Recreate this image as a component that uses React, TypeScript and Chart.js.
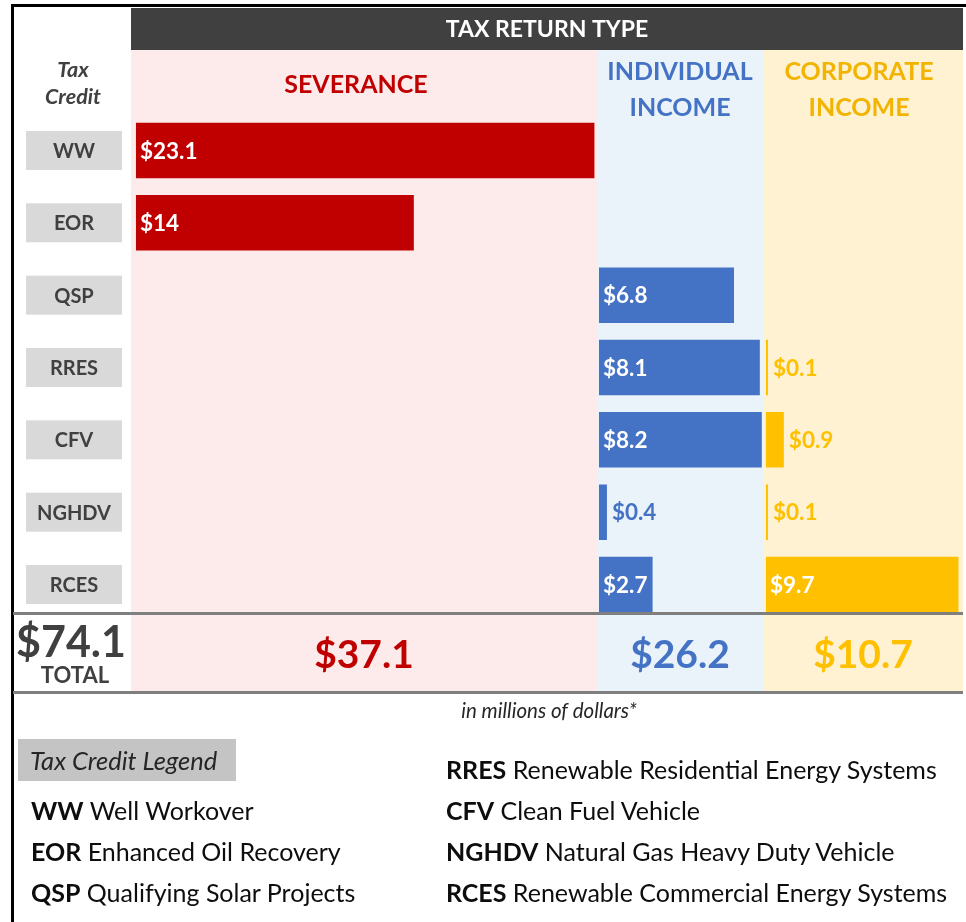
import React, { useEffect, useRef } from "react";
import { Chart, registerables } from "chart.js";

Chart.register(...registerables);

// ---------- data ----------
const creditCodes = ["WW", "EOR", "QSP", "RRES", "CFV", "NGHDV", "RCES"];
const severanceValues = [23.1, 14, null, null, null, null, null];
const individualValues = [null, null, 6.8, 8.1, 8.2, 0.4, 2.7];
const corporateValues = [null, null, null, 0.1, 0.9, 0.1, 9.7];
const panelTitles = [["SEVERANCE"], ["INDIVIDUAL", "INCOME"], ["CORPORATE", "INCOME"]];
const panelTotals = ["$37.1", "$26.2", "$10.7"];
const grandTotal = "$74.1";
const headerTitle = "TAX RETURN TYPE";
const legendLeft = [
  ["WW", "Well Workover"],
  ["EOR", "Enhanced Oil Recovery"],
  ["QSP", "Qualifying Solar Projects"],
];
const legendRight = [
  ["RRES", "Renewable Residential Energy Systems"],
  ["CFV", "Clean Fuel Vehicle"],
  ["NGHDV", "Natural Gas Heavy Duty Vehicle"],
  ["RCES", "Renewable Commercial Energy Systems"],
];

// ---------- styles ----------
const FF = "Lato, 'Open Sans', sans-serif";
const BAR_COLORS = ["#C00000", "#4472C4", "#FFC000"];
const TITLE_COLORS = ["#C00000", "#4472C4", "#F2B400"];
const PANEL_BG = ["#FDEBEB", "#EAF2FA", "#FEF2D3"];
const TITLE_DX = [-8, 0, -4];
const DARK = "#404040";

const decorPlugin = {
  id: "decor",
  beforeDatasetsDraw(chart: any) {
    const ctx = chart.ctx;
    const panels = [chart.scales.xSev, chart.scales.xInd, chart.scales.xCorp];
    const yScale = chart.scales.y;
    const left = panels[0].left;
    const right = panels[2].right;
    ctx.save();
    // frame
    ctx.fillStyle = "#000";
    ctx.fillRect(11, 4, 955, 3);
    ctx.fillRect(11, 4, 3, 918);
    // panel backgrounds
    panels.forEach((s: any, i: number) => {
      ctx.fillStyle = PANEL_BG[i];
      ctx.fillRect(s.left, 50, s.right - s.left, 642);
    });
    // header
    ctx.fillStyle = DARK;
    ctx.fillRect(left, 8, right - left, 42);
    ctx.fillStyle = "#fff";
    ctx.font = `bold 23px ${FF}`;
    ctx.textAlign = "center";
    ctx.textBaseline = "middle";
    ctx.fillText(headerTitle, (left + right) / 2, 30);
    // left header
    ctx.fillStyle = DARK;
    ctx.font = `italic bold 21.5px ${FF}`;
    ctx.fillText("Tax", 73, 70);
    ctx.fillText("Credit", 73, 97);
    // panel titles
    ctx.font = `bold 25px ${FF}`;
    panels.forEach((s: any, i: number) => {
      ctx.fillStyle = TITLE_COLORS[i];
      const cx = (s.left + s.right) / 2 + TITLE_DX[i];
      const lines = panelTitles[i];
      if (lines.length === 1) ctx.fillText(lines[0], cx, 85);
      else {
        ctx.fillText(lines[0], cx, 72);
        ctx.fillText(lines[1], cx, 107.5);
      }
    });
    // category label boxes
    ctx.font = `bold 20px ${FF}`;
    creditCodes.forEach((c, i) => {
      const cy = yScale.getPixelForValue(i);
      ctx.fillStyle = "#D9D9D9";
      ctx.fillRect(26, cy - 19.5, 96, 39);
      ctx.fillStyle = DARK;
      ctx.fillText(c, 74, cy + 1);
    });
    ctx.restore();
  },
  afterDatasetsDraw(chart: any) {
    const ctx = chart.ctx;
    const panels = [chart.scales.xSev, chart.scales.xInd, chart.scales.xCorp];
    ctx.save();
    // bar value labels
    ctx.font = `bold 22.5px ${FF}`;
    ctx.textAlign = "left";
    ctx.textBaseline = "middle";
    chart.data.datasets.forEach((ds: any, di: number) => {
      const meta = chart.getDatasetMeta(di);
      meta.data.forEach((bar: any, i: number) => {
        const v = ds.data[i];
        if (v === null || v === undefined) return;
        const p = bar.getProps(["x", "y", "base"], true);
        const inside = v >= 1;
        ctx.fillStyle = inside ? "#FFFFFF" : BAR_COLORS[di];
        const tx = inside ? p.base + 4 : p.x + 5;
        ctx.fillText(`$${v}`, tx, p.y + 1);
      });
    });
    // separators
    const right = panels[2].right;
    ctx.fillStyle = "#7F7F7F";
    ctx.fillRect(13, 612, right - 13, 3);
    ctx.fillRect(13, 691, right - 13, 3);
    // totals
    ctx.textAlign = "center";
    ctx.font = `bold 39px ${FF}`;
    panels.forEach((s: any, i: number) => {
      ctx.fillStyle = BAR_COLORS[i];
      ctx.fillText(panelTotals[i], (s.left + s.right) / 2, 655);
    });
    ctx.fillStyle = DARK;
    ctx.font = `bold 43px ${FF}`;
    ctx.fillText(grandTotal, 71, 643);
    ctx.font = `bold 22px ${FF}`;
    ctx.fillText("TOTAL", 75, 676);
    // footnote
    ctx.fillStyle = "#262626";
    ctx.font = `italic 20.5px ${FF}`;
    ctx.fillText("in millions of dollars*", 549, 711);
    ctx.restore();
  },
};

function LegendItem({ code, text, x, y }: { code: string; text: string; x: number; y: number }) {
  return (
    <div
      style={{
        position: "absolute",
        left: x,
        top: y - 16,
        height: 32,
        lineHeight: "32px",
        fontFamily: FF,
        fontSize: 25,
        color: "#0D0D0D",
        whiteSpace: "nowrap",
      }}
    >
      <b>{code}</b> {text}
    </div>
  );
}

export default function App() {
  const ref = useRef<HTMLCanvasElement>(null);
  useEffect(() => {
    const canvas = ref.current;
    if (!canvas) return;
    const common = { categoryPercentage: 1, barPercentage: 0.767, grouped: false, borderWidth: 0 };
    const chart = new Chart(canvas, {
      type: "bar",
      data: {
        labels: creditCodes,
        datasets: [
          { label: "Severance", data: severanceValues, xAxisID: "xSev", backgroundColor: BAR_COLORS[0], ...common },
          { label: "Individual Income", data: individualValues, xAxisID: "xInd", backgroundColor: BAR_COLORS[1], ...common },
          { label: "Corporate Income", data: corporateValues, xAxisID: "xCorp", backgroundColor: BAR_COLORS[2], ...common },
        ] as any,
      },
      options: {
        responsive: false,
        animation: false,
        indexAxis: "y",
        layout: { padding: { left: 131, right: 3, top: 114.3, bottom: 301.3 } },
        plugins: { legend: { display: false }, tooltip: { enabled: false }, title: { display: false } },
        scales: {
          y: { type: "category", display: false, offset: true, grid: { display: false } },
          xSev: { type: "linear", position: "bottom", stack: "panels", stackWeight: 466, min: -0.25, max: 23.23, display: false },
          xInd: { type: "linear", position: "bottom", stack: "panels", stackWeight: 166, min: -0.1, max: 8.26, display: false },
          xCorp: { type: "linear", position: "bottom", stack: "panels", stackWeight: 200, min: -0.15, max: 9.93, display: false },
        } as any,
      },
      plugins: [decorPlugin],
    });
    return () => chart.destroy();
  }, []);

  return (
    <div style={{ position: "absolute", left: 0, top: 0, width: 966, height: 922, overflow: "hidden", background: "#fff" }}>
      <canvas ref={ref} width={966} height={922} style={{ position: "absolute", left: 0, top: 0 }} />
      <div
        style={{
          position: "absolute",
          left: 18,
          top: 739,
          width: 218,
          height: 42,
          background: "#C4C4C4",
        }}
      />
      <div
        style={{
          position: "absolute",
          left: 30,
          top: 744,
          height: 32,
          lineHeight: "32px",
          fontFamily: FF,
          fontStyle: "italic",
          fontSize: 25.5,
          color: "#262626",
          whiteSpace: "nowrap",
        }}
      >
        Tax Credit Legend
      </div>
      {legendLeft.map(([c, t], i) => (
        <LegendItem key={c} code={c} text={t} x={31} y={810 + i * 41} />
      ))}
      {legendRight.map(([c, t], i) => (
        <LegendItem key={c} code={c} text={t} x={446} y={769 + i * 41} />
      ))}
    </div>
  );
}
